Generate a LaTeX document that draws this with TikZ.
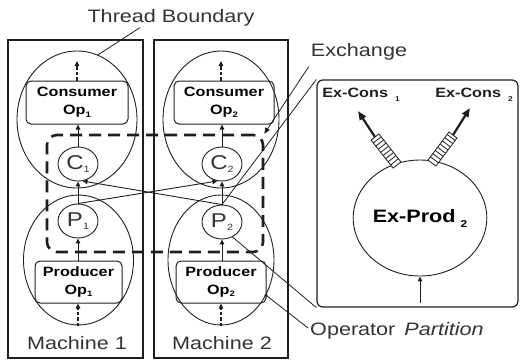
\documentclass[tikz,border=0pt]{standalone}
\usepackage{fontspec}
\setmainfont{Liberation Sans}[FakeStretch=1.2]
\usetikzlibrary{shapes.geometric,arrows.meta}
\definecolor{ink}{HTML}{1E1E1E}
\definecolor{txt}{HTML}{333333}
% small lowered index used after operator names
\newcommand\lowidx[2][2.5pt]{\raisebox{-#1}{\fontsize{8}{8}\selectfont #2}}
\begin{document}
\begin{tikzpicture}[x=1pt,y=-1pt,
  every node/.style={inner sep=0pt},
  machine/.style={draw=ink, line width=1.4pt, minimum height=318pt},
  thread/.style={draw=ink, ellipse, line width=0.9pt},
  opbox/.style={draw=ink, rounded corners=5pt, line width=1pt, align=center,
    minimum height=43pt, font=\bfseries\fontsize{13.5}{18}\selectfont},
  chan/.style={draw=ink, ellipse, line width=0.9pt, minimum width=40pt,
    minimum height=34pt, font=\fontsize{20}{20}\selectfont, text=txt},
  flow/.style={draw=ink, -{Triangle[length=5pt,width=4.5pt]}, line width=0.9pt},
  feed/.style={flow, line width=1.2pt, dash pattern=on 3.5pt off 2pt},
  bigarrow/.style={draw=ink, -{Triangle[length=9pt,width=7pt]}, line width=2.2pt},
  xchg/.style={draw=ink, rounded corners=10pt, line width=2.6pt,
    dash pattern=on 12pt off 7pt},
  lbl/.style={font=\fontsize{18}{20}\selectfont, text=txt},
  pointer/.style={draw=ink, line width=0.8pt},
  port/.style={draw=ink, line width=0.8pt, fill=white},
]
\useasboundingbox (0,0) rectangle (522,360);

% machines
\node[machine, minimum width=135pt] (m1) at (75.5,199) {};
\node[machine, minimum width=134pt] (m2) at (221,199) {};
\node[lbl] (m1lbl) at (77,343) {Machine 1};
\node[lbl] (m2lbl) at (222,343) {Machine 2};

% thread boundaries
\node[thread, minimum width=120pt, minimum height=137pt] (ce1) at (77,119.5) {};
\node[thread, minimum width=116pt, minimum height=137pt] (ce2) at (221,119.5) {};
\node[thread, minimum width=110pt, minimum height=130pt] (pe1) at (78.5,260) {};
\node[thread, minimum width=106pt, minimum height=130pt] (pe2) at (221,260) {};

% operators
\node[opbox, minimum width=102pt] (cop1) at (77,102.5) {Consumer\\Op\lowidx{1}};
\node[opbox, minimum width=100pt] (cop2) at (224,102.5) {Consumer\\Op\lowidx{2}};
\node[opbox, minimum width=87pt, minimum height=42pt] (pop1) at (78.5,282) {Producer\\Op\lowidx{1}};
\node[opbox, minimum width=90pt, minimum height=42pt] (pop2) at (221,282) {Producer\\Op\lowidx{2}};

% exchange end points
\node[chan] (C1) at (78,164) {C\lowidx[3pt]{\fontsize{9}{9}\selectfont 1}};
\node[chan] (C2) at (222,164) {C\lowidx[3pt]{\fontsize{9}{9}\selectfont 2}};
\node[chan] (P1) at (78,221) {P\lowidx[3pt]{\fontsize{9}{9}\selectfont 1}};
\node[chan] (P2) at (222,222) {P\lowidx[3pt]{\fontsize{9}{9}\selectfont 2}};

% local flow
\draw[flow] (C1.north) -- (C1.north |- cop1.south);
\draw[flow] (C2.north) -- (C2.north |- cop2.south);
\draw[flow] (P1.north) -- (C1.south);
\draw[flow] (P2.north) -- (C2.south);
\draw[flow] (P1.south |- pop1.north) -- (P1.south);
\draw[flow] (P2.south |- pop2.north) -- (P2.south);

% repartitioning across machines
\draw[flow] (P1.north) -- (C2.-105);
\draw[flow] (P2.north) -- (C1.-75);

% input and output streams
\coordinate (in1) at (78,326);
\coordinate (in2) at (221,326);
\coordinate (out1) at (77,61);
\coordinate (out2) at (221,61);
\draw[feed] (in1) -- (in1 |- pop1.south);
\draw[feed] (in2) -- (in2 |- pop2.south);
\draw[feed] (out1 |- cop1.north) -- (out1);
\draw[feed] (out2 |- cop2.north) -- (out2);

% exchange boundary
\node[xchg, minimum width=216pt, minimum height=117pt] (xb) at (155,193.5) {};

% exchange producer detail
\node[draw=ink, rounded corners=6pt, line width=1.2pt, minimum width=201pt,
  minimum height=227pt] (xp) at (417.5,193.5) {};
\node[draw=ink, ellipse, line width=0.9pt, minimum width=130pt, minimum height=116pt,
  font=\bfseries\fontsize{18}{20}\selectfont] (xpe) at (420,218)
  {Ex-Prod\hspace{5pt}\lowidx[5pt]{\fontsize{10}{10}\selectfont 2}};
\draw[pointer] (P2.north) -- (xp.north west);
\draw[pointer] (P2.-55) -- (xp.south west);

% output ports
\begin{scope}[shift={(397,165)}, rotate=38.2]
  \draw[port] (-5,0) rectangle (5,-35.6);
  \foreach \v in {4,8,...,32} \draw[pointer] (-5,-\v) -- (5,-\v);
\end{scope}
\begin{scope}[shift={(432,163)}, rotate=-36.9]
  \draw[port] (-5,0) rectangle (5,-35);
  \foreach \v in {4,8,...,32} \draw[pointer] (-5,-\v) -- (5,-\v);
\end{scope}
\coordinate (pt1) at (375,137);
\coordinate (pt2) at (453,135);
\node[font=\bfseries\fontsize{13.5}{16}\selectfont, text=ink] (ec1) at (361,95)
  {Ex-Cons\hspace{7pt}\lowidx[4pt]{\fontsize{7}{7}\selectfont 1}};
\node[font=\bfseries\fontsize{13.5}{16}\selectfont, text=ink] (ec2) at (474,95)
  {Ex-Cons\hspace{7pt}\lowidx[4pt]{\fontsize{7}{7}\selectfont 2}};
\coordinate (at1) at (358,111);
\coordinate (at2) at (470,108);
\draw[bigarrow] (pt1) -- (at1);
\draw[bigarrow] (pt2) -- (at2);
\coordinate (xin) at (420,303);
\draw[flow, line width=1pt] (xin) -- (xpe.south);

% annotations
\node[lbl] (tb) at (171,18) {Thread Boundary};
\draw[pointer] ([xshift=-31pt,yshift=-1pt]tb.south) -- (ce1.72);
\node[lbl] (ex) at (359,52) {Exchange};
\draw[pointer, -{Triangle[length=6pt,width=5pt]}] ([shift={(-2,6)}]ex.south west) -- (xb.north east);
\node[lbl, anchor=west] (opl) at (310,331) {Operator\hspace{9pt}\textit{Partition}};
\fill[ink] (pe2.-38) circle (1.6pt);
\draw[pointer] (pe2.-38) -- ([shift={(-2,-3)}]opl.west);
\end{tikzpicture}
\end{document}
